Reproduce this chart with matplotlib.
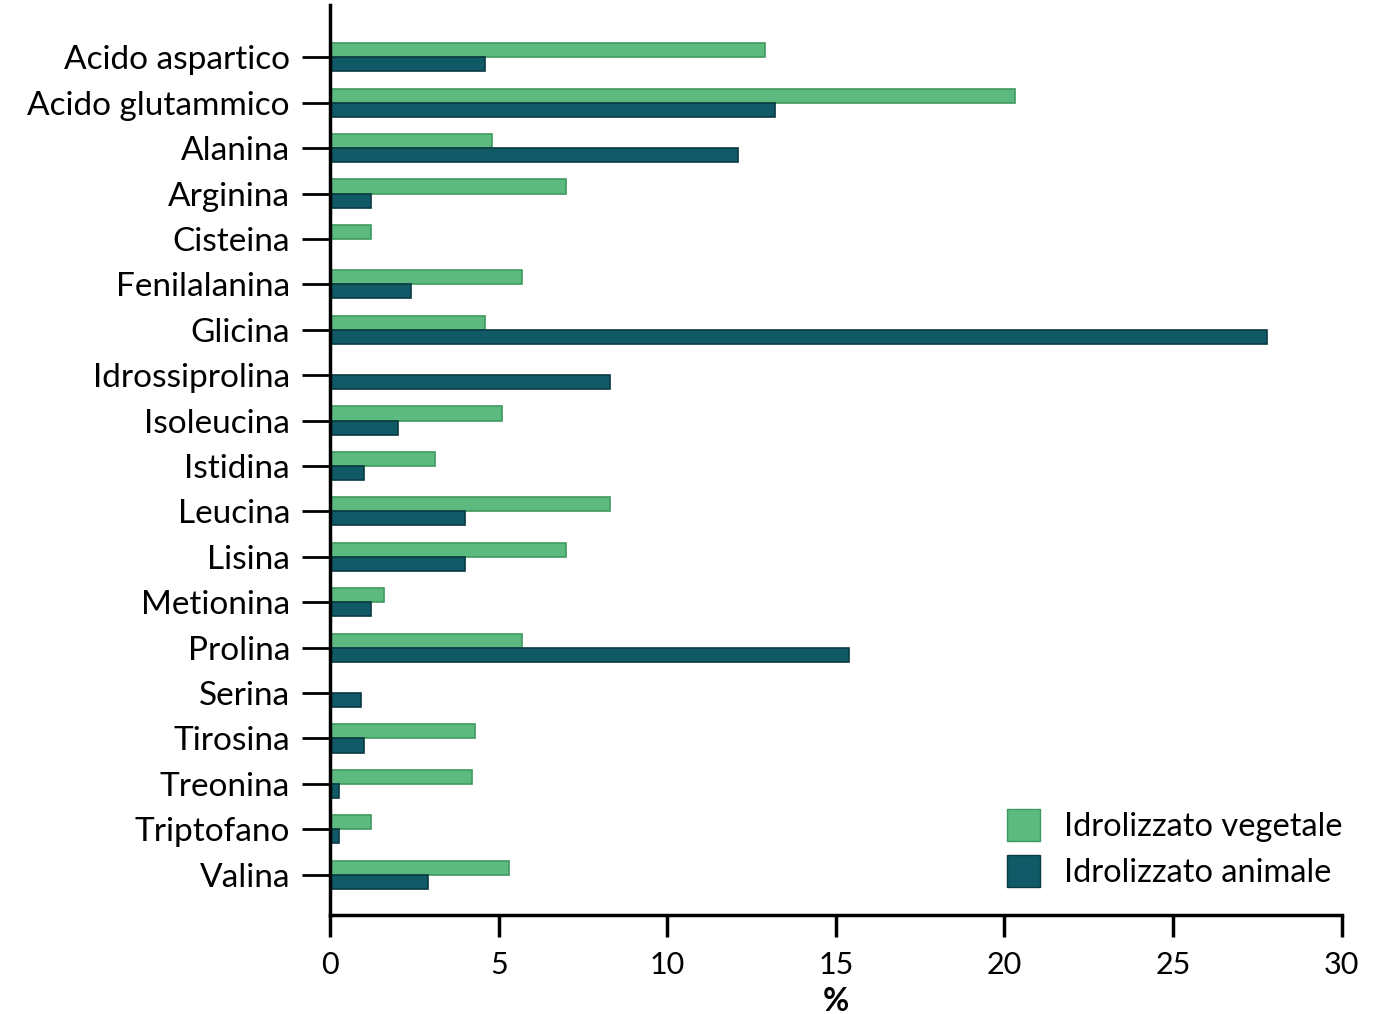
import matplotlib
matplotlib.use("Agg")
import matplotlib.pyplot as plt
import numpy as np
from matplotlib.patches import Patch

categories = ["Acido aspartico", "Acido glutammico", "Alanina", "Arginina", "Cisteina",
              "Fenilalanina", "Glicina", "Idrossiprolina", "Isoleucina", "Istidina",
              "Leucina", "Lisina", "Metionina", "Prolina", "Serina", "Tirosina",
              "Treonina", "Triptofano", "Valina"]
vegetale = [12.9, 20.3, 4.8, 7.0, 1.2, 5.7, 4.6, 0.0, 5.1, 3.1,
            8.3, 7.0, 1.6, 5.7, 0.0, 4.3, 4.2, 1.2, 5.3]
animale = [4.6, 13.2, 12.1, 1.2, 0.0, 2.4, 27.8, 8.3, 2.0, 1.0,
           4.0, 4.0, 1.2, 15.4, 0.9, 1.0, 0.25, 0.25, 2.9]
xticks = [0, 5, 10, 15, 20, 25, 30]

green = "#5cb97f"
green_edge = "#3f9a5e"
dark = "#0f5a66"
dark_edge = "#0a3a42"

plt.rcParams['font.family'] = ['Lato', 'DejaVu Sans']

fig = plt.figure(figsize=(13.76, 10.14), dpi=100)
ax = fig.add_axes([0.24, 0.098, 0.735, 0.897])

y = np.arange(len(categories))
h = 0.31
ax.barh(y - h / 2, vegetale, height=h, color=green, edgecolor=green_edge, linewidth=1.2)
ax.barh(y + h / 2, animale, height=h, color=dark, edgecolor=dark_edge, linewidth=1.2)

ax.set_ylim(len(categories) - 1 + 0.88, -1.15)
ax.set_xlim(0, 30)
ax.set_yticks(y)
ax.set_yticklabels(categories, fontsize=24)
ax.set_xticks(xticks)
ax.set_xticklabels([str(t) for t in xticks], fontsize=22)
ax.set_xlabel("%", fontsize=23, fontweight="bold", labelpad=6)

for s in ["top", "right"]:
    ax.spines[s].set_visible(False)
for s in ["left", "bottom"]:
    ax.spines[s].set_linewidth(2.5)
ax.tick_params(axis="y", length=20, width=2, pad=9)
ax.tick_params(axis="x", length=16, width=2.5, pad=10)

handles = [Patch(facecolor=green, edgecolor=green_edge, label="Idrolizzato vegetale"),
           Patch(facecolor=dark, edgecolor=dark_edge, label="Idrolizzato animale")]
ax.legend(handles=handles, loc="lower right", bbox_to_anchor=(1.03, -0.003), frameon=False,
          fontsize=23.5, handlelength=1.0, handleheight=1.1, handletextpad=0.75,
          labelspacing=0.4)

fig.savefig("out.png", dpi=100)
